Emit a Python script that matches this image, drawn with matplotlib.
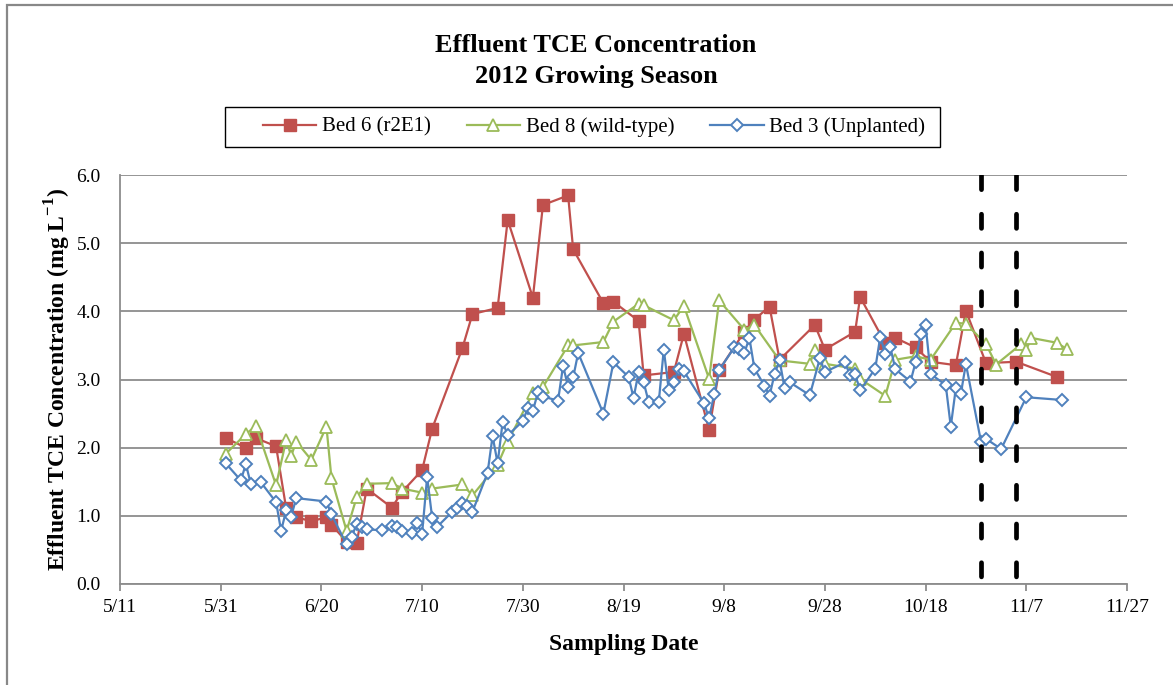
import datetime as dt
import matplotlib
matplotlib.use("Agg")
from matplotlib import pyplot as plt
import matplotlib.dates as mdates
from matplotlib.patches import Rectangle
from matplotlib.ticker import FuncFormatter

plt.rcParams['font.family'] = ['Liberation Serif', 'DejaVu Serif']
plt.rcParams['mathtext.fontset'] = 'custom'
plt.rcParams['mathtext.rm'] = 'Liberation Serif'
plt.rcParams['mathtext.bf'] = 'Liberation Serif:bold'

# sampling dates (2012) and effluent TCE, mg/L
bed6_dates = ["6/1", "6/5", "6/7", "6/11", "6/13", "6/15", "6/18", "6/21", "6/22", "6/25",
              "6/27", "6/29", "7/4", "7/6", "7/10", "7/12", "7/18", "7/20", "7/25", "7/27",
              "8/1", "8/3", "8/8", "8/9", "8/15", "8/17", "8/22", "8/23", "8/29", "8/31",
              "9/5", "9/7", "9/12", "9/14", "9/17", "9/19", "9/26", "9/28", "10/4", "10/5",
              "10/10", "10/12", "10/16", "10/19", "10/24", "10/26", "10/30", "11/5", "11/13"]
bed6_tce = [2.14, 2.00, 2.14, 2.02, 1.11, 0.98, 0.92, 0.98, 0.87, 0.62,
            0.60, 1.40, 1.12, 1.35, 1.67, 2.28, 3.46, 3.96, 4.05, 5.34,
            4.20, 5.56, 5.70, 4.91, 4.12, 4.14, 3.86, 3.06, 3.11, 3.67,
            2.26, 3.14, 3.70, 3.88, 4.07, 3.29, 3.80, 3.44, 3.70, 4.21,
            3.53, 3.61, 3.47, 3.26, 3.21, 4.01, 3.24, 3.26, 3.04]

bed8_dates = ["6/1", "6/5", "6/7", "6/11", "6/13", "6/14", "6/15", "6/18", "6/21", "6/22",
              "6/25", "6/27", "6/29", "7/4", "7/6", "7/10", "7/12", "7/18", "7/20", "7/25",
              "7/27", "8/1", "8/3", "8/8", "8/9", "8/15", "8/17", "8/22", "8/23", "8/29",
              "8/31", "9/5", "9/7", "9/12", "9/14", "9/19", "9/25", "9/26", "9/28", "10/4",
              "10/5", "10/10", "10/12", "10/16", "10/19", "10/24", "10/26", "10/30", "11/1", "11/6",
              "11/7", "11/8", "11/13", "11/15"]
bed8_tce = [1.91, 2.20, 2.32, 1.45, 2.11, 1.88, 2.09, 1.82, 2.31, 1.55,
            0.78, 1.27, 1.47, 1.48, 1.40, 1.34, 1.40, 1.46, 1.30, 1.75,
            2.09, 2.80, 2.89, 3.50, 3.50, 3.55, 3.85, 4.11, 4.09, 3.87,
            4.08, 3.01, 4.16, 3.73, 3.80, 3.28, 3.23, 3.44, 3.23, 3.16,
            3.01, 2.76, 3.29, 3.34, 3.29, 3.83, 3.82, 3.52, 3.22, 3.52,
            3.44, 3.61, 3.54, 3.45]

bed3_dates = ["6/1", "6/4", "6/5", "6/6", "6/8", "6/11", "6/12", "6/13", "6/14", "6/15",
              "6/21", "6/22", "6/25", "6/26", "6/27", "6/28", "6/29", "7/2", "7/4", "7/5",
              "7/6", "7/8", "7/9", "7/10", "7/11", "7/12", "7/13", "7/16", "7/17", "7/18",
              "7/19", "7/20", "7/23", "7/24", "7/25", "7/26", "7/27", "7/30", "7/31", "8/1",
              "8/2", "8/3", "8/6", "8/7", "8/8", "8/9", "8/10", "8/15", "8/17", "8/20",
              "8/21", "8/22", "8/23", "8/24", "8/26", "8/27", "8/28", "8/29", "8/30", "8/31",
              "9/4", "9/5", "9/6", "9/7", "9/10", "9/11", "9/12", "9/13", "9/14", "9/16",
              "9/17", "9/18", "9/19", "9/20", "9/21", "9/25", "9/27", "9/28", "10/2", "10/3",
              "10/4", "10/5", "10/8", "10/9", "10/10", "10/11", "10/12", "10/15", "10/16", "10/17",
              "10/18", "10/19", "10/22", "10/23", "10/24", "10/25", "10/26", "10/29", "10/30", "11/2",
              "11/7", "11/14"]
bed3_tce = [1.77, 1.52, 1.76, 1.46, 1.49, 1.20, 0.78, 1.08, 0.99, 1.26,
            1.21, 1.02, 0.58, 0.69, 0.88, 0.84, 0.80, 0.79, 0.85, 0.84,
            0.78, 0.75, 0.89, 0.74, 1.57, 0.97, 0.84, 1.06, 1.12, 1.19,
            1.14, 1.06, 1.63, 2.17, 1.77, 2.38, 2.18, 2.39, 2.58, 2.54,
            2.81, 2.75, 2.69, 3.20, 2.89, 3.03, 3.39, 2.50, 3.25, 3.04,
            2.73, 3.11, 2.96, 2.67, 2.67, 3.44, 2.84, 2.96, 3.16, 3.12,
            2.65, 2.43, 2.78, 3.14, 3.47, 3.45, 3.39, 3.61, 3.16, 2.91,
            2.76, 3.08, 3.28, 2.87, 2.96, 2.77, 3.31, 3.11, 3.25, 3.06,
            3.08, 2.84, 3.16, 3.63, 3.37, 3.47, 3.15, 2.97, 3.25, 3.67,
            3.80, 3.08, 2.92, 2.31, 2.87, 2.79, 3.23, 2.09, 2.13, 1.98,
            2.74, 2.70]

# dashed markers for the two events at the end of the season
event_dates = ["10/29", "11/5"]


def to_date(s):
    m, d = s.split("/")
    return dt.datetime(2012, int(m), int(d))


W, H = 1173, 685
fig = plt.figure(figsize=(W / 100, H / 100), dpi=100)
ax = fig.add_axes([120 / W, 1 - 584 / H, 1007 / W, 409 / H])

red = "#C0504D"
green = "#9BBB59"
blue = "#4F81BD"

ax.plot([to_date(s) for s in bed6_dates], bed6_tce, color=red, lw=1.6,
        marker="s", ms=8, mfc=red, mec=red, label="Bed 6 (r2E1)", zorder=3)
ax.plot([to_date(s) for s in bed8_dates], bed8_tce, color=green, lw=1.6,
        marker="^", ms=8.5, mfc="white", mec=green, mew=1.3, label="Bed 8 (wild-type)", zorder=4)
ax.plot([to_date(s) for s in bed3_dates], bed3_tce, color=blue, lw=1.6,
        marker="D", ms=6, mfc="white", mec=blue, mew=1.4, label="Bed 3 (Unplanted)", zorder=5)

for s in event_dates:
    d = to_date(s)
    ax.plot([d, d], [6, 0], color="black", lw=3.4,
            linestyle=(0, (3.0, 5.2)), dash_capstyle="round", zorder=6)

ax.set_xlim(dt.datetime(2012, 5, 11), dt.datetime(2012, 11, 27))
ax.set_ylim(0, 6)
ax.set_xticks([dt.datetime(2012, 5, 11) + dt.timedelta(days=20 * i) for i in range(11)])
ax.xaxis.set_major_formatter(FuncFormatter(lambda v, p: "{}/{}".format(
    mdates.num2date(v).month, mdates.num2date(v).day)))
ax.set_yticks([0, 1, 2, 3, 4, 5, 6])
ax.yaxis.set_major_formatter(FuncFormatter(lambda v, p: "{:.1f}".format(v)))

ax.grid(axis="y", color="#8C8C8C", lw=1.3)
ax.set_axisbelow(True)
for side in ["top", "right"]:
    ax.spines[side].set_visible(False)
for side in ["left", "bottom"]:
    ax.spines[side].set_color("#8C8C8C")
    ax.spines[side].set_linewidth(1.3)
ax.tick_params(axis="x", direction="out", length=5, width=1.3, color="#8C8C8C",
               labelsize=14, pad=6)
ax.tick_params(axis="y", length=0, labelsize=14, pad=14)

ax.set_xlabel("Sampling Date", fontsize=17, fontweight="bold", labelpad=13)
ax.set_ylabel(r"Effluent TCE Concentration (mg L$^{\mathbf{-1}}$)", fontsize=17,
              fontweight="bold", labelpad=2)

# two-line title, one text per line
fig.text(0.508, 1 - 46 / H, "Effluent TCE Concentration",
         ha="center", va="center", fontsize=19, fontweight="bold")
fig.text(0.508, 1 - 76 / H, "2012 Growing Season",
         ha="center", va="center", fontsize=19, fontweight="bold")

# legend entries without their own frame; the box is drawn separately
leg = fig.legend(loc="center left", bbox_to_anchor=(263 / W, 1 - 127 / H), ncol=3,
                 fontsize=15, frameon=False, handlelength=2.55, columnspacing=1.73,
                 handletextpad=0.28, borderpad=0, borderaxespad=0)
fig.add_artist(Rectangle((225 / W, 1 - 147 / H), 715 / W, 40 / H, transform=fig.transFigure,
                         fill=False, ec="black", lw=1.0))

# frame around the whole chart
fig.add_artist(Rectangle((7 / W, -0.1), 1.2, 1.1 - 5 / H, transform=fig.transFigure,
                         fill=False, ec="#888888", lw=1.6))

fig.savefig("out.png", dpi=100)
